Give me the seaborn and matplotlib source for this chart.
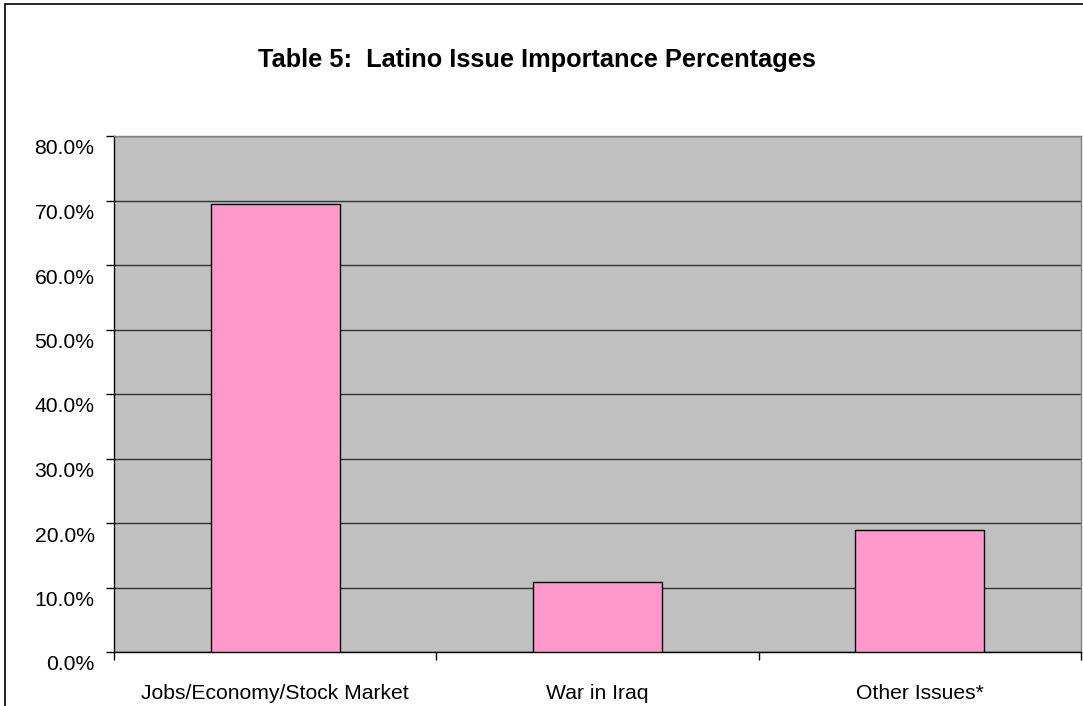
import matplotlib
matplotlib.use("Agg")
import matplotlib.pyplot as plt
import matplotlib.transforms as mtransforms
import seaborn as sns
import pandas as pd
from matplotlib.patches import Rectangle
from matplotlib.ticker import FuncFormatter, MultipleLocator

categories = ["Jobs/Economy/Stock Market", "War in Iraq", "Other Issues*"]
values = [69.4, 10.9, 18.9]
title = "Table 5:  Latino Issue Importance Percentages"

sns.set_theme(style="white")
plt.rcParams["font.family"] = ["Liberation Sans", "DejaVu Sans"]

W, H = 1083, 706
fig = plt.figure(figsize=(W / 100, H / 100), dpi=100)
ax = fig.add_axes([114 / W, 1 - 652 / H, (1081 - 114) / W, (652 - 136) / H])

df = pd.DataFrame({"cat": categories, "val": values})
sns.barplot(data=df, x="cat", y="val", color="#FF99CC", width=0.4,
            edgecolor="black", linewidth=1.0, saturation=1, ax=ax, zorder=3)

ax.set_facecolor("#C0C0C0")
ax.set_ylim(0, 80)
ax.set_xlim(-0.5, 2.5)
ax.yaxis.set_major_locator(MultipleLocator(10))
ax.yaxis.set_major_formatter(FuncFormatter(lambda v, p: f"{v:.1f}%"))
ax.grid(axis="y", color="#333333", linewidth=1.0, zorder=1)
ax.set_axisbelow(True)
ax.set_xlabel("")
ax.set_ylabel("")

ax.tick_params(axis="y", which="major", length=6, width=1, color="black",
               direction="out", left=True, labelsize=15.2, pad=8, labelcolor="black")
ax.set_xticks([0, 1, 2])
ax.set_xticklabels(categories)
ax.tick_params(axis="x", which="major", length=0, labelsize=15.2, pad=23, labelcolor="black")
ax.set_xticks([-0.5, 0.5, 1.5, 2.5], minor=True)
ax.tick_params(axis="x", which="minor", length=6, width=1, color="black",
               direction="out", bottom=True)

for s in ["left", "bottom"]:
    ax.spines[s].set_color("black")
    ax.spines[s].set_linewidth(1.0)
for s in ["top", "right"]:
    ax.spines[s].set_color("#808080")
    ax.spines[s].set_linewidth(1.0)
    ax.spines[s].set_visible(True)

# Excel-style: y tick labels sit slightly below their gridline
offset = mtransforms.ScaledTranslation(0, -11 / 100, fig.dpi_scale_trans)
for lab in ax.get_yticklabels():
    lab.set_transform(lab.get_transform() + offset)

fig.text(537 / W, 1 - 60 / H, title, ha="center", va="center",
         fontsize=18.3, fontweight="bold", color="black")

fig.patches.append(Rectangle((5 / W, -0.1), 1.2, 1 - 4 / H + 0.1,
                             transform=fig.transFigure, fill=False,
                             edgecolor="black", linewidth=1.2))

fig.savefig("out.png", dpi=100)
